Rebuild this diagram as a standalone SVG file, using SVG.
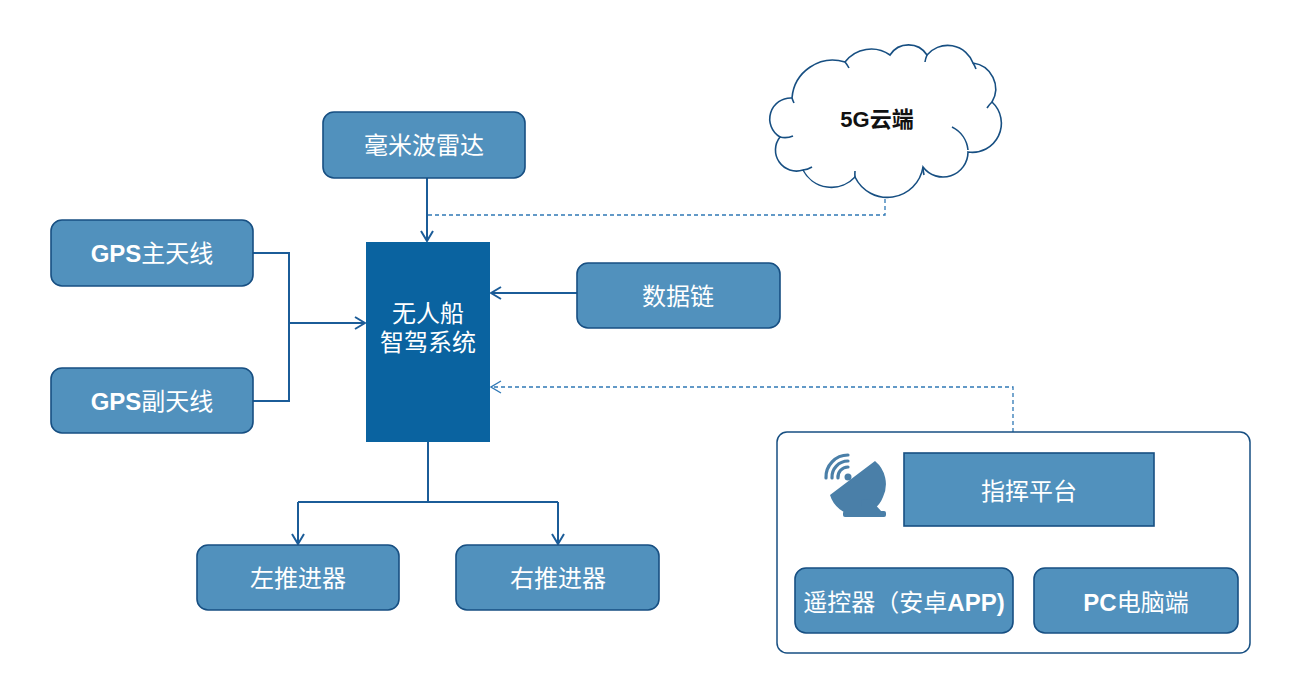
<svg xmlns="http://www.w3.org/2000/svg" width="1300" height="700" viewBox="0 0 1300 700">
<defs>
<style>
.box{fill:#5191bd;stroke:#174f82;stroke-width:1.6}
.sys{fill:#0a63a0}
.t{font-family:"Liberation Sans","Noto Sans CJK SC",sans-serif;font-size:24px;fill:#ffffff;text-anchor:middle}
.b{font-weight:bold}
.ln{fill:none;stroke:#1b5c98;stroke-width:2}
.dash{fill:none;stroke:#2f78b5;stroke-width:1.3;stroke-dasharray:4,3}
.cl{fill:none;stroke:#174f82;stroke-width:1.6}
</style>
<marker id="ah" viewBox="0 0 12 14" refX="11" refY="7" markerWidth="12" markerHeight="14" markerUnits="userSpaceOnUse" orient="auto">
<path d="M1,1 L11,7 L1,13" fill="none" stroke="#1b5c98" stroke-width="2"/>
</marker>
<marker id="ahd" viewBox="0 0 12 14" refX="11" refY="7" markerWidth="12" markerHeight="14" markerUnits="userSpaceOnUse" orient="auto">
<path d="M1,1 L11,7 L1,13" fill="none" stroke="#2f78b5" stroke-width="1.3"/>
</marker>
</defs>
<rect width="1300" height="700" fill="#ffffff"/>

<g id="connectors">
<path class="ln" d="M427,178 V241" marker-end="url(#ah)"/>
<path class="ln" d="M253,253 H289 V401 H253"/>
<path class="ln" d="M289,323 H365" marker-end="url(#ah)"/>
<path class="ln" d="M577,293 H491" marker-end="url(#ah)"/>
<path class="ln" d="M428,442 V502 M298,502 H558"/>
<path class="ln" d="M298,502 V544" marker-end="url(#ah)"/>
<path class="ln" d="M558,502 V544" marker-end="url(#ah)"/>
<path class="dash" d="M428,215 H885 V199"/>
<path class="dash" d="M1013,432 V387 H491" marker-end="url(#ahd)"/>
</g>

<g id="cloud">
<path d="M792,98 A41,41 0 0 1 845,62 A33,33 0 0 1 890,55 A22,22 0 0 1 927,55 A27,27 0 0 1 973,63 A26,26 0 0 1 992,102 A29,29 0 0 1 968,152 A25,25 0 0 1 923,167 A36,36 0 0 1 855,177 A32,32 0 0 1 803,170 A21,21 0 0 1 780,137 A21,21 0 0 1 792,98 Z" fill="#ffffff" stroke="#174f82" stroke-width="1.6"/>
<path class="cl" d="M792,98 A41,41 0 0 0 794,103"/>
<path class="cl" d="M845,62 A33,33 0 0 1 849,68"/>
<path class="cl" d="M927,55 A27,27 0 0 0 925,62"/>
<path class="cl" d="M973,63 A26,26 0 0 1 976,69"/>
<path class="cl" d="M992,102 A29,29 0 0 0 987,108"/>
<path class="cl" d="M952,127 A29,29 0 0 1 968,150"/>
<path class="cl" d="M923,167 A36,36 0 0 0 924,175"/>
<path class="cl" d="M855,177 A32,32 0 0 1 855,171"/>
<path class="cl" d="M803,170 A21,21 0 0 0 812,167"/>
<path class="cl" d="M780,137 A21,21 0 0 0 793,136"/>
<text x="877" y="127" font-family="Liberation Sans,'Noto Sans CJK SC',sans-serif" font-size="22" font-weight="bold" fill="#111111" text-anchor="middle">5G云端</text>
</g>

<g id="radar">
<rect class="box" x="323" y="112" width="202" height="66" rx="11"/>
<text class="t" x="424" y="154">毫米波雷达</text>
</g>

<g id="gps-main">
<rect class="box" x="51" y="220" width="202" height="66" rx="11"/>
<text class="t" x="152" y="262"><tspan class="b">GPS</tspan>主天线</text>
</g>

<g id="gps-sub">
<rect class="box" x="51" y="368" width="202" height="65" rx="11"/>
<text class="t" x="152" y="410"><tspan class="b">GPS</tspan>副天线</text>
</g>

<g id="system">
<rect class="sys" x="366" y="242" width="124" height="200"/>
<text class="t" x="428" y="322">无人船</text>
<text class="t" x="428" y="351">智驾系统</text>
</g>

<g id="datalink">
<rect class="box" x="577" y="263" width="203" height="65" rx="11"/>
<text class="t" x="678" y="305">数据链</text>
</g>

<g id="left-thruster">
<rect class="box" x="197" y="545" width="202" height="65" rx="11"/>
<text class="t" x="298" y="587">左推进器</text>
</g>

<g id="right-thruster">
<rect class="box" x="456" y="545" width="203" height="65" rx="11"/>
<text class="t" x="558" y="587">右推进器</text>
</g>

<g id="command-group">
<rect x="777" y="432" width="473" height="221" rx="10" fill="#ffffff" stroke="#174f82" stroke-width="1.5"/>
<g id="dish" fill="#4a7fa8">
<path d="M830,495 L875,461 A30,30 0 0 1 883,497 A28,28 0 0 1 830,495 Z"/>
<path d="M861,500 L870,499 L882,512 L862,512 Z"/>
<rect x="843" y="511" width="43" height="6" rx="2"/>
<circle cx="848" cy="477" r="3.5"/>
<path d="M838,478 A10,10 0 0 1 848,467" fill="none" stroke="#4a7fa8" stroke-width="3.2" stroke-linecap="round"/>
<path d="M832,478 A16,16 0 0 1 848,461" fill="none" stroke="#4a7fa8" stroke-width="3.2" stroke-linecap="round"/>
<path d="M826,478 A22,22 0 0 1 848,455" fill="none" stroke="#4a7fa8" stroke-width="3.2" stroke-linecap="round"/>
</g>
</g>

<g id="command-platform">
<rect class="box" x="904" y="453" width="250" height="73"/>
<text class="t" x="1029" y="500">指挥平台</text>
</g>

<g id="remote">
<rect class="box" x="795" y="568" width="218" height="65" rx="11"/>
<text class="t" x="904" y="611">遥控器（安卓<tspan class="b">APP)</tspan></text>
</g>

<g id="pc">
<rect class="box" x="1034" y="568" width="204" height="65" rx="11"/>
<text class="t" x="1136" y="611"><tspan class="b">PC</tspan>电脑端</text>
</g>
</svg>
